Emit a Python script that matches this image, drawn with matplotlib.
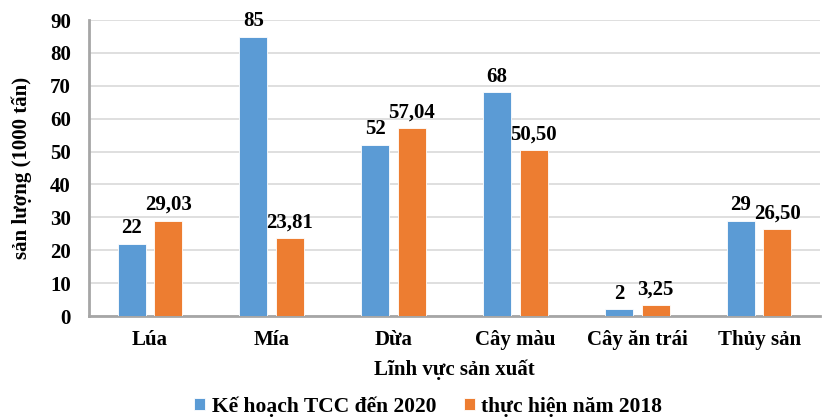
import numpy as np
import matplotlib.pyplot as plt

categories = ['Lúa', 'Mía', 'Dừa', 'Cây màu', 'Cây ăn trái', 'Thủy sản']
ke_hoach = [22, 85, 52, 68, 2, 29]
thuc_hien = [29.03, 23.81, 57.04, 50.50, 3.25, 26.50]
labels_kh = ['22', '85', '52', '68', '2', '29']
labels_th = ['29,03', '23,81', '57,04', '50,50', '3,25', '26,50']

plt.rcParams['font.family'] = ['Liberation Serif', 'DejaVu Serif']
plt.rcParams['font.weight'] = 'bold'

fig = plt.figure(figsize=(8.27, 4.19), dpi=100)
ax = fig.add_axes([0.1076, 0.2458, 0.884, 0.7062])

x = np.arange(len(categories))
w = 0.23
gap = 0.035
b1 = ax.bar(x - w / 2 - gap, ke_hoach, w, color='#5B9BD5', edgecolor='white', linewidth=0.6,
            label='Kế hoạch TCC đến 2020', zorder=3)
b2 = ax.bar(x + w / 2 + gap, thuc_hien, w, color='#ED7D31', edgecolor='white', linewidth=0.6,
            label='thực hiện năm 2018', zorder=3)
ax.bar_label(b1, labels=labels_kh, padding=4, fontsize=15, fontweight='bold')
ax.bar_label(b2, labels=labels_th, padding=4, fontsize=15, fontweight='bold')

ax.set_xlim(-0.5, len(categories) - 0.5)
ax.set_ylim(0, 90)
ax.set_yticks(range(0, 91, 10))
ax.set_xticks(x)
ax.set_xticklabels(categories)
ax.tick_params(axis='both', length=0, labelsize=15)
ax.tick_params(axis='x', pad=10)
ax.tick_params(axis='y', pad=13)
ax.grid(axis='y', color='#d9d9d9', linewidth=1.2, zorder=0)
for s in ['top', 'right']:
    ax.spines[s].set_visible(False)
ax.spines['left'].set_color('#a6a6a6')
ax.spines['left'].set_linewidth(2)
ax.spines['bottom'].set_color('#a6a6a6')
ax.spines['bottom'].set_linewidth(2)

ax.set_xlabel('Lĩnh vực sản xuất', fontsize=15, fontweight='bold', labelpad=7)
ax.set_ylabel('sản lượng (1000 tấn)', fontsize=15, fontweight='bold', labelpad=13)

fig.legend(loc='center', bbox_to_anchor=(0.518, 0.03), ncol=2, frameon=False,
           handlelength=0.5, handleheight=0.5, handletextpad=0.3, columnspacing=1.3,
           prop={'weight': 'bold', 'size': 15.5})

fig.savefig('out.png', dpi=100)
